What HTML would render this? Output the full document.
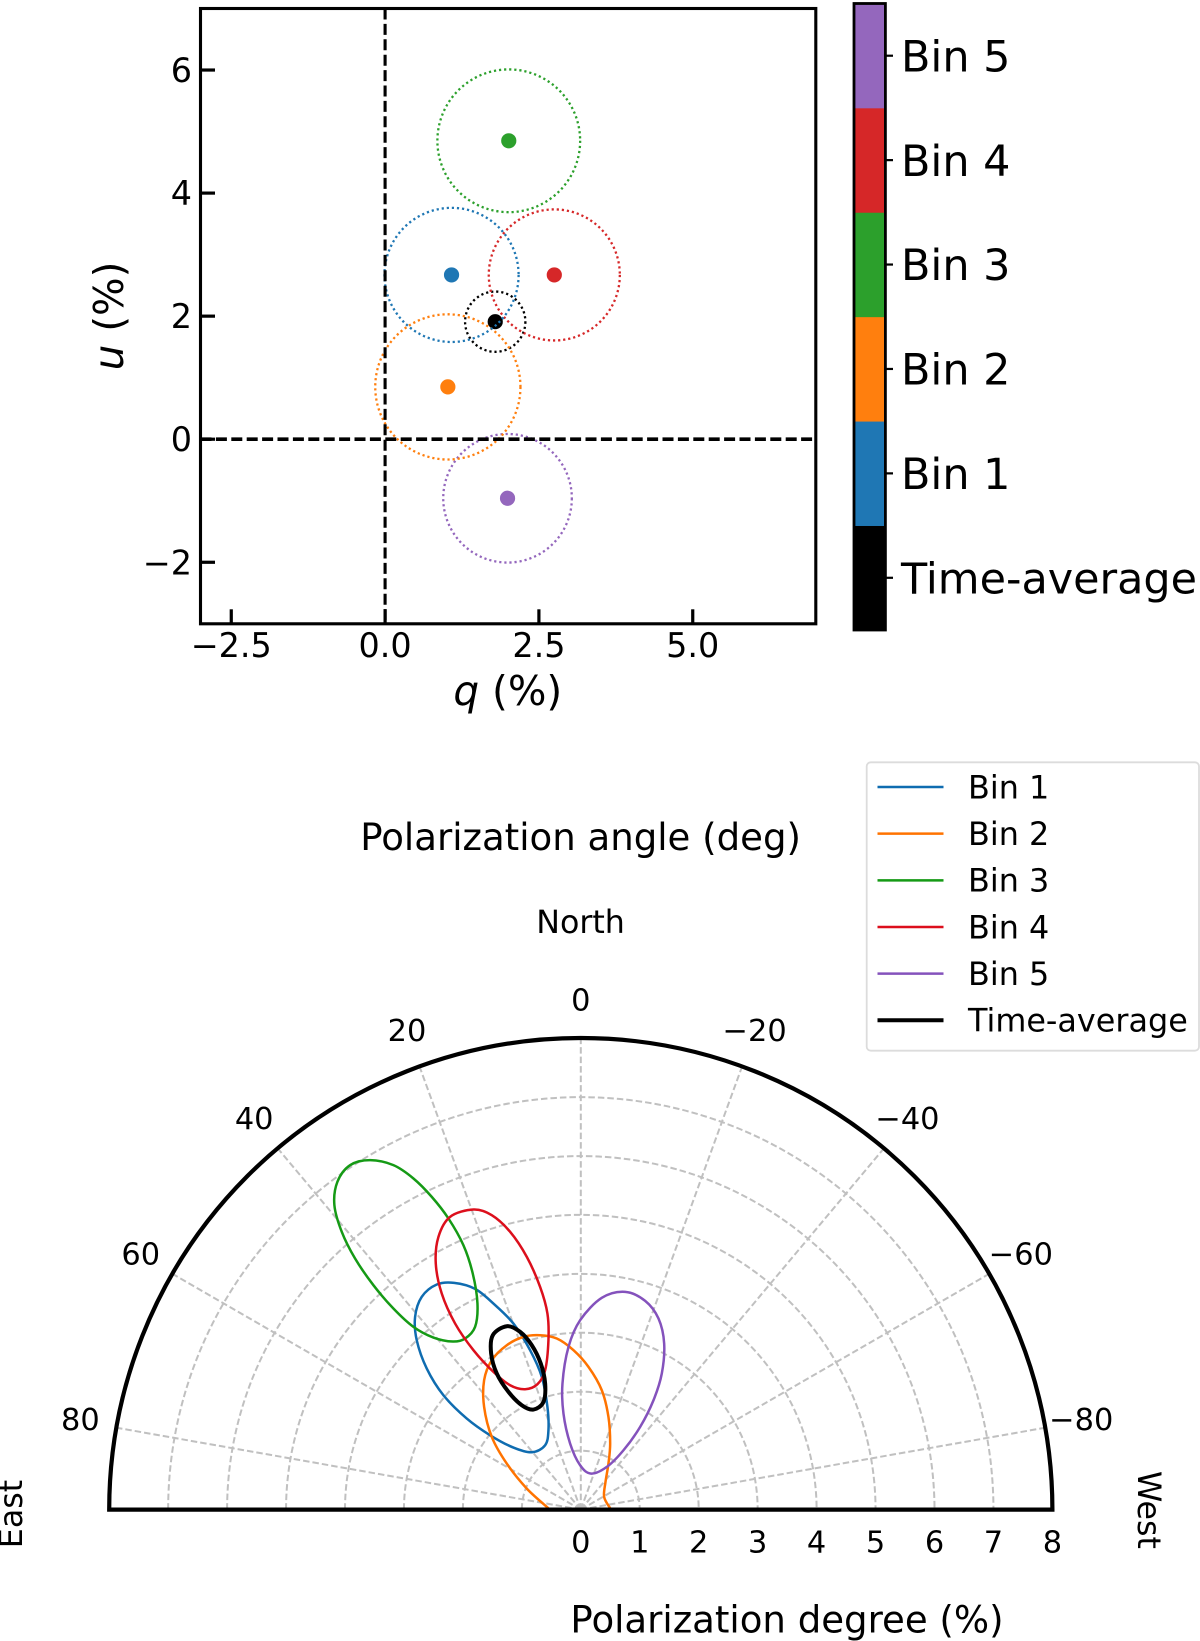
<!DOCTYPE html>
<html lang="en">
<head>
<meta charset="utf-8">
<title>Polarization q-u plane and polar contours</title>
<style>
  html, body { margin: 0; padding: 0; background: #fff; }
  svg { display: block; }
  text { font-family: "DejaVu Sans", "Liberation Sans", sans-serif; fill: #000; }
  .tick-top { font-size: 33.4px; }
  .tick-polar { font-size: 30.4px; }
  .cbar-label { font-size: 42.9px; }
  .legend-label { font-size: 31.85px; }
  .compass { font-size: 31.7px; }
  .axis-title { font-size: 37.1px; }
  .qu-title { font-size: 40.6px; }
  .s0 { stroke: #1f77b4; } .s1 { stroke: #ff7f0e; } .s2 { stroke: #2ca02c; }
  .s3 { stroke: #d62728; } .s4 { stroke: #9467bd; } .s5 { stroke: #000; }
  .p0 { stroke: #0f6cb0; } .p1 { stroke: #ff7300; } .p2 { stroke: #159a15; }
  .p3 { stroke: #dc0f1c; } .p4 { stroke: #8452bc; } .p5 { stroke: #000; }
  .f0 { fill: #1f77b4; } .f1 { fill: #ff7f0e; } .f2 { fill: #2ca02c; }
  .f3 { fill: #d62728; } .f4 { fill: #9467bd; } .f5 { fill: #000; }
  .grid { stroke: #c0c0c0; stroke-width: 2; stroke-dasharray: 6.5 3; fill: none; }
</style>
</head>
<body>
<svg id="figure" xmlns="http://www.w3.org/2000/svg" width="1200" height="1641" viewBox="0 0 1200 1641">
  <rect x="0" y="0" width="1200" height="1641" fill="#fff"/>
  <defs>
    <clipPath id="qu-clip"><rect x="200.5" y="8.5" width="615.3" height="615.3"/></clipPath>
    <clipPath id="polar-clip"><rect x="100" y="1030" width="1000" height="479.5"/></clipPath>
  </defs>

  <g id="qu-panel">
    <g id="qu-ticks"></g>
    <g id="qu-marks" clip-path="url(#qu-clip)"></g>
    <line id="qu-v-zero" stroke="#000" stroke-width="3.1" stroke-dasharray="11 4.4"/>
    <line id="qu-h-zero" stroke="#000" stroke-width="3.6" stroke-dasharray="11 4.4"/>
    <rect x="200.5" y="8.5" width="615.3" height="615.3" fill="none" stroke="#000" stroke-width="3.1"/>
    <text class="qu-title" x="507.8" y="705" text-anchor="middle"><tspan font-style="italic">q</tspan> (%)</text>
    <text class="qu-title" transform="translate(123 316) rotate(-90)" text-anchor="middle"><tspan font-style="italic">u</tspan> (%)</text>
  </g>

  <g id="colorbar"></g>

  <g id="polar-panel">
    <g id="polar-grid"></g>
    <g id="polar-curves" clip-path="url(#polar-clip)"></g>
    <path id="polar-frame" fill="none" stroke="#000" stroke-width="4.2" stroke-linejoin="miter"/>
    <g id="polar-ticks"></g>
    <text class="axis-title" x="580.6" y="850" text-anchor="middle">Polarization angle (deg)</text>
    <text class="compass" x="580.6" y="933" text-anchor="middle">North</text>
    <text class="compass" transform="translate(22 1514) rotate(-90)" text-anchor="middle">East</text>
    <text class="compass" transform="translate(1138 1510) rotate(90)" text-anchor="middle">West</text>
    <text class="axis-title" x="787" y="1632.5" text-anchor="middle">Polarization degree (%)</text>
  </g>

  <g id="legend">
    <rect x="866.7" y="762.3" width="332.3" height="288.4" rx="4" ry="4" fill="#fff" fill-opacity="0.85" stroke="#dcdcdc" stroke-width="1.8"/>
  </g>
</svg>

<script>
// ---- Top panel: q/u measurements (percent) ----
const binNames = ["Bin 1", "Bin 2", "Bin 3", "Bin 4", "Bin 5", "Time-average"];
const qValues = [1.08, 1.02, 2.01, 2.75, 1.99, 1.79];
const uValues = [2.67, 0.85, 4.85, 2.67, -0.96, 1.91];
const errRadius = [1.09, 1.18, 1.16, 1.065, 1.045, 0.49];
const qTicks = [-2.5, 0, 2.5, 5];
const uTicks = [-2, 0, 2, 4, 6];
const qLimits = [-3, 7];
const uLimits = [-3, 7];
const colorbarOrder = ["Time-average", "Bin 1", "Bin 2", "Bin 3", "Bin 4", "Bin 5"];

// ---- Bottom panel: contour outlines, east/north components of polarization (percent) ----
const bin1East = [2.149,1.793,1.482,1.143,0.860,0.662,0.566,0.549,0.605,0.831,1.143,1.538,1.934,2.330,2.613,2.783,2.811,2.698,2.443];
const bin1North = [3.846,3.744,3.495,3.156,2.704,2.251,1.742,1.346,1.092,0.973,1.052,1.261,1.544,1.940,2.393,2.873,3.269,3.609,3.818];
const bin2East = [0.549,0.916,1.256,1.510,1.640,1.640,1.510,1.256,0.973,0.690,0.407,0.124,-0.130,-0.356,-0.469,-0.498,-0.469,-0.419,-0.396,-0.498];
const bin2North = [0.023,0.356,0.781,1.233,1.742,2.195,2.534,2.788,2.930,2.958,2.902,2.704,2.421,2.025,1.572,1.120,0.781,0.469,0.215,0.023];
const bin3East = [3.575,3.179,2.839,2.528,2.245,1.991,1.833,1.753,1.793,1.963,2.172,2.500,2.839,3.179,3.518,3.829,4.055,4.180,4.129,3.914];
const bin3North = [5.928,5.843,5.617,5.305,4.938,4.485,4.005,3.495,3.100,2.902,2.851,2.919,3.100,3.411,3.807,4.259,4.712,5.164,5.560,5.843];
const bin4East = [1.821,1.510,1.199,0.916,0.690,0.566,0.549,0.605,0.735,0.945,1.199,1.482,1.821,2.132,2.359,2.460,2.415,2.217];
const bin4North = [5.090,4.994,4.712,4.287,3.778,3.326,2.873,2.364,2.127,2.042,2.110,2.336,2.704,3.156,3.665,4.174,4.627,4.966];
const bin5East = [-0.752,-1.092,-1.318,-1.414,-1.374,-1.233,-1.007,-0.724,-0.441,-0.175,0.011,0.181,0.294,0.311,0.209,0.011,-0.356];
const bin5North = [3.694,3.541,3.241,2.817,2.308,1.855,1.403,1.007,0.724,0.611,0.752,1.120,1.629,2.138,2.760,3.213,3.592];
const avgEast = [1.256,1.029,0.831,0.679,0.605,0.633,0.803,1.001,1.227,1.425,1.521,1.493];
const avgNorth = [3.111,3.015,2.788,2.477,2.138,1.827,1.697,1.770,1.997,2.308,2.647,2.958];

const radialTicks = [0, 1, 2, 3, 4, 5, 6, 7, 8];
const angleTicks = [80, 60, 40, 20, 0, -20, -40, -60, -80];
const radialGrid = [1, 2, 3, 4, 5, 6, 7];
const radialMax = 8;

const NS = "http://www.w3.org/2000/svg";
function make(tag, attrs, parent) {
  const el = document.createElementNS(NS, tag);
  for (const k in attrs) el.setAttribute(k, attrs[k]);
  parent.appendChild(el);
  return el;
}
function minusFix(v, digits) {
  return (digits ? v.toFixed(digits) : String(v)).replace("-", "\u2212");
}

// ---- Axis functions ----
const quBox = { left: 200.5, right: 815.8, top: 8.5, bottom: 623.8 };
function xQ(q) { return quBox.left + (q - qLimits[0]) / (qLimits[1] - qLimits[0]) * (quBox.right - quBox.left); }
function yU(u) { return quBox.bottom - (u - uLimits[0]) / (uLimits[1] - uLimits[0]) * (quBox.bottom - quBox.top); }
const polarCenter = { x: 580.8, y: 1509.6 };
const polarRadius = 471.6;
function rPx(pd) { return pd / radialMax * polarRadius; }
function polarX(pd, paDeg) { return polarCenter.x - rPx(pd) * Math.sin(paDeg * Math.PI / 180); }
function polarY(pd, paDeg) { return polarCenter.y - rPx(pd) * Math.cos(paDeg * Math.PI / 180); }
const cbarBox = { left: 854, right: 885.4, top: 3.5, bottom: 630 };
function cbarY(i) { return cbarBox.bottom - i / colorbarOrder.length * (cbarBox.bottom - cbarBox.top); }

// ---- Top panel ----
const quTicks = document.getElementById("qu-ticks");
qTicks.forEach(function (t) {
  const line = make("line", { x1: xQ(t), x2: xQ(t), y1: quBox.bottom, y2: quBox.bottom - 14.5, stroke: "#000", "stroke-width": 3.2 }, quTicks);
  
  
  const label = make("text", { x: xQ(t), y: 657.2, "text-anchor": "middle", class: "tick-top" }, quTicks);
  
  
  label.textContent = minusFix(t, 1);
});
uTicks.forEach(function (t) {
  const line = make("line", { y1: yU(t), y2: yU(t), x1: quBox.left, x2: quBox.left + 14.5, stroke: "#000", "stroke-width": 3.2 }, quTicks);
  
  
  const label = make("text", { x: 192, y: yU(t) + 12, "text-anchor": "end", class: "tick-top" }, quTicks);
  
  
  label.textContent = minusFix(t, 0);
});
const vz = document.getElementById("qu-v-zero");
vz.setAttribute("x1", xQ(0)); vz.setAttribute("x2", xQ(0));
vz.setAttribute("y1", quBox.top); vz.setAttribute("y2", quBox.bottom);
const hz = document.getElementById("qu-h-zero");
hz.setAttribute("y1", yU(0)); hz.setAttribute("y2", yU(0));
hz.setAttribute("x1", quBox.left); hz.setAttribute("x2", quBox.right);

const quMarks = document.getElementById("qu-marks");
const quOrder = [5, 4, 3, 2, 1, 0];
quOrder.forEach(function (i) {
  const dot = make("ellipse", { cx: xQ(qValues[i]), cy: yU(uValues[i]), rx: 7.6, ry: 7.6, class: "f" + i }, quMarks);
  
  
  const ring = make("ellipse", {
    cx: xQ(qValues[i]), cy: yU(uValues[i]),
    rx: errRadius[i] * (xQ(1) - xQ(0)), ry: errRadius[i] * (yU(0) - yU(1)),
    fill: "none", class: "s" + i, "stroke-width": 2.3, "stroke-dasharray": "2.2 2.9"
  }, quMarks);
  
  
});

// ---- Colorbar ----
const cbar = document.getElementById("colorbar");
colorbarOrder.forEach(function (name, i) {
  const idx = binNames.indexOf(name);
  const seg = make("rect", { x: cbarBox.left, y: cbarY(i + 1), width: cbarBox.right - cbarBox.left, height: cbarY(i) - cbarY(i + 1) + 0.4, class: "f" + idx }, cbar);
  
  
  const midY = (cbarY(i) + cbarY(i + 1)) / 2;
  const tick = make("line", { x1: cbarBox.right, x2: 893, y1: midY, y2: midY, stroke: "#000", "stroke-width": 2.2 }, cbar);
  
  
  const label = make("text", { x: 901, y: midY + 15.7, class: "cbar-label" }, cbar);
  
  
  label.textContent = name;
});
const cbarFrame = make("rect", { x: cbarBox.left, y: cbarBox.top, width: cbarBox.right - cbarBox.left, height: cbarBox.bottom - cbarBox.top, fill: "none", stroke: "#000", "stroke-width": 2.8 }, cbar);



// ---- Polar grid ----
const gridGroup = document.getElementById("polar-grid");
radialGrid.forEach(function (r) {
  const arc = make("path", {
    d: "M" + polarX(r, 90) + " " + polarY(r, 90) + " A" + rPx(r) + " " + rPx(r) + " 0 0 1 " + polarX(r, -90) + " " + polarY(r, -90),
    class: "grid"
  }, gridGroup);
  
  
});
angleTicks.forEach(function (a) {
  const spoke = make("line", { x1: polarX(0, a), y1: polarY(0, a), x2: polarX(radialMax, a), y2: polarY(radialMax, a), class: "grid" }, gridGroup);
  
  
});

// ---- Polar frame ----
document.getElementById("polar-frame").setAttribute("d",
  "M" + polarX(radialMax, 90) + " " + polarY(radialMax, 90) +
  " A" + polarRadius + " " + polarRadius + " 0 0 1 " + polarX(radialMax, -90) + " " + polarY(radialMax, -90) + " Z");

// ---- Polar curves ----
function toPolar(east, north) {
  return east.map(function (e, i) {
    return { pd: Math.hypot(e, north[i]), pa: Math.atan2(e, north[i]) * 180 / Math.PI };
  });
}
function splinePath(pts, closed) {
  const xy = pts.map(function (p) { return [polarX(p.pd, p.pa), polarY(p.pd, p.pa)]; });
  const n = xy.length;
  function at(i) {
    if (closed) return xy[(i + n) % n];
    return xy[Math.max(0, Math.min(n - 1, i))];
  }
  let d = "M" + xy[0][0].toFixed(2) + " " + xy[0][1].toFixed(2);
  const last = closed ? n : n - 1;
  for (let i = 0; i < last; i++) {
    const p0 = at(i - 1), p1 = at(i), p2 = at(i + 1), p3 = at(i + 2);
    d += " C" + (p1[0] + (p2[0] - p0[0]) / 6).toFixed(2) + " " + (p1[1] + (p2[1] - p0[1]) / 6).toFixed(2) +
         " " + (p2[0] - (p3[0] - p1[0]) / 6).toFixed(2) + " " + (p2[1] - (p3[1] - p1[1]) / 6).toFixed(2) +
         " " + p2[0].toFixed(2) + " " + p2[1].toFixed(2);
  }
  return closed ? d + " Z" : d;
}
const curvesGroup = document.getElementById("polar-curves");
const contourEast = [bin1East, bin2East, bin3East, bin4East, bin5East, avgEast];
const contourNorth = [bin1North, bin2North, bin3North, bin4North, bin5North, avgNorth];
contourEast.forEach(function (east, i) {
  const isOpen = i === 1;
  const curve = make("path", {
    d: splinePath(toPolar(east, contourNorth[i]), !isOpen),
    fill: "none", class: "p" + i, "stroke-width": i === 5 ? 4 : 2.5, "stroke-linejoin": "round"
  }, curvesGroup);
  
  
});

// ---- Polar tick labels ----
const polarTicks = document.getElementById("polar-ticks");
radialTicks.forEach(function (r) {
  const label = make("text", { x: polarCenter.x + rPx(r), y: 1552.6, "text-anchor": "middle", class: "tick-polar" }, polarTicks);
  
  
  label.textContent = String(r);
});
angleTicks.forEach(function (a) {
  const label = make("text", {
    x: polarX(8.62, a),
    y: polarY(8.62, a) + 8.8,
    "text-anchor": "middle", class: "tick-polar"
  }, polarTicks);
  
  
  label.textContent = minusFix(a, 0);
});

// ---- Legend ----
const legend = document.getElementById("legend");
binNames.forEach(function (name, i) {
  const rowY = 787 + i * 46.66;
  const sample = make("line", { x1: 877.5, x2: 943.5, y1: rowY, y2: rowY, class: "p" + i, "stroke-width": i === 5 ? 4 : 2.5 }, legend);
  
  
  const label = make("text", { x: 968, y: rowY + 11.3, class: "legend-label" }, legend);
  
  
  label.textContent = name;
});
</script>
</body>
</html>
